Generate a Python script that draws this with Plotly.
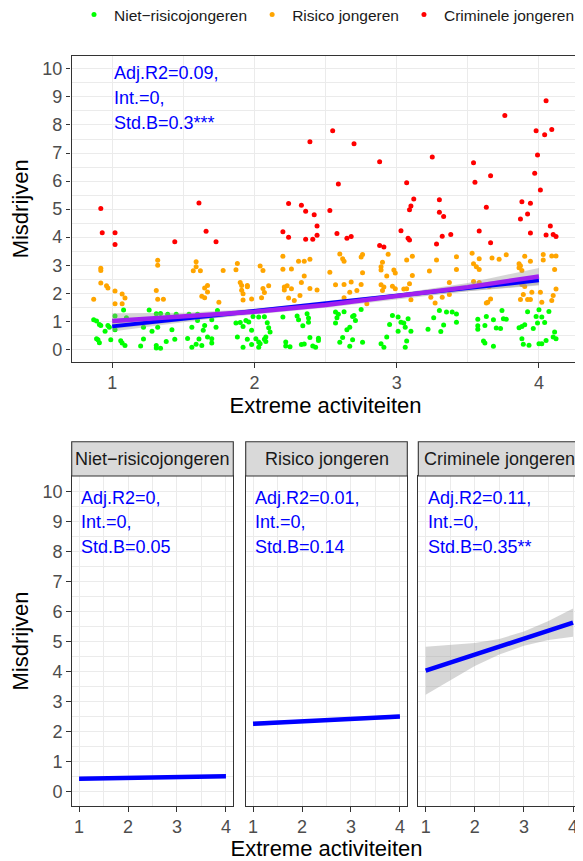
import plotly.graph_objects as go

# ---------------- data ----------------
groups = ["Niet\u2212risicojongeren", "Risico jongeren", "Criminele jongeren"]
group_colors = ["#00FF00", "#FFA500", "#FF0000"]

niet_x = [0.87, 0.89, 0.91, 0.92, 0.97, 0.98, 0.95, 1.02, 1.08, 1.02, 0.89, 0.91, 0.90, 0.99, 1.06, 1.07, 1.09, 1.10,
          1.20, 1.22, 1.26, 1.22, 1.28, 1.32, 1.31, 1.31, 1.34, 1.38, 1.42, 1.44, 1.31, 1.34, 1.39, 1.45, 1.53, 1.56,
          1.56, 1.59, 1.61, 1.63, 1.64, 1.60, 1.54, 1.60, 1.65, 1.67,
          1.74, 1.70, 1.73, 1.70, 1.70, 1.87, 1.90, 1.92, 1.88, 1.92, 1.95, 1.94, 1.96, 1.98, 1.98, 2.01, 2.03, 2.04,
          2.07, 2.08, 2.08, 2.03, 1.99, 2.03, 2.07, 2.09, 2.10, 2.11, 2.20, 2.22, 2.22, 2.25, 2.30, 2.31, 2.34, 2.37,
          2.38, 2.38, 2.33, 2.35, 2.39, 2.41, 2.43, 2.45, 2.45,
          2.57, 2.59, 2.63, 2.58, 2.57, 2.69, 2.70, 2.71, 2.67, 2.65, 2.75, 2.60, 2.62, 2.69, 2.67, 2.76, 2.89, 2.91,
          2.93, 2.95, 2.97, 3.01, 3.03, 3.05, 3.08, 3.06, 3.10, 3.01, 3.07, 3.06, 3.22, 3.26, 3.33, 3.31, 3.30, 3.35,
          3.39, 3.42, 3.42, 3.57, 3.57, 3.57, 3.62, 3.63, 3.68, 3.74, 3.75, 3.77, 3.70, 3.73, 3.61, 3.62, 3.68, 3.86,
          3.88, 3.90, 3.96, 3.88, 3.89, 3.93, 3.92, 4.00, 3.98, 4.02, 3.99, 4.04, 4.07, 4.00, 4.02, 4.05, 4.11, 4.10, 4.12]
niet_y = [1.06, 1.01, 0.89, 0.85, 0.85, 0.79, 0.65, 1.19, 1.40, 0.70, 0.38, 0.24, 0.34, 0.34, 0.31, 0.23, 0.14, 1.13,
          0.12, 0.37, 1.40, 0.79, 0.65, 0.79, 0.14, 0.05, 0.04, 0.28, 0.70, 0.36, 1.27, 1.28, 1.25, 1.25, 0.39, 0.79,
          0.08, 0.18, 0.37, 0.14, 0.68, 1.03, 1.25, 1.25, 0.85, 0.44,
          1.39, 1.06, 0.79, 0.38, 0.23, 0.94, 0.96, 0.82, 0.44, 0.08, 0.36, 1.03, 0.98, 0.68, 0.17, 0.38, 0.26, 0.20,
          0.36, 0.44, 0.28, 0.08, 1.17, 1.15, 1.16, 0.95, 0.77, 0.62, 1.15, 0.26, 0.12, 0.09, 1.19, 1.06, 0.84, 1.27,
          1.12, 0.97, 0.17, 0.19, 0.42, 0.12, 0.08, 0.40, 0.32,
          1.33, 1.25, 1.34, 1.13, 0.94, 1.17, 1.21, 1.03, 0.79, 0.70, 1.42, 0.25, 0.42, 0.34, 0.11, 0.25, 0.20, 0.08,
          0.44, 0.89, 1.21, 1.15, 0.97, 0.94, 1.09, 0.79, 0.65, 0.65, 0.30, 0.08, 0.72, 1.13, 0.87, 0.64, 1.39, 1.33,
          1.33, 1.26, 0.97, 1.07, 0.84, 0.72, 0.85, 1.17, 1.06, 1.39, 1.09, 1.07, 0.76, 0.74, 0.30, 0.23, 0.11, 0.77,
          0.82, 0.88, 0.74, 0.38, 0.18, 0.15, 1.34, 1.41, 1.17, 1.15, 0.94, 0.96, 1.35, 0.20, 0.20, 0.32, 0.62, 0.44, 0.38]

risico_x = [0.92, 0.92, 0.92, 0.96, 0.97, 0.87, 1.02, 1.07, 1.09, 1.02, 1.07, 1.32, 1.32, 1.31, 1.32, 1.36, 1.59, 1.59,
            1.57, 1.62, 1.67, 1.65, 1.63, 1.65, 1.67,
            1.88, 1.87, 1.78, 1.75, 1.90, 1.91, 1.95, 1.95, 1.91, 1.92, 1.92, 1.98, 2.04, 2.06, 2.10, 2.06, 2.07, 2.05,
            2.20, 2.20, 2.26, 2.31, 2.35, 2.39, 2.35, 2.33, 2.21, 2.23, 2.26, 2.21, 2.39, 2.44, 2.24, 2.28, 2.32,
            2.53, 2.60, 2.62, 2.63, 2.57, 2.63, 2.68, 2.67, 2.72, 2.75, 2.76, 2.76, 2.75, 2.63, 2.94, 2.90, 2.89, 2.89,
            2.93, 2.89, 2.91, 2.90, 2.97, 2.99, 2.98, 2.99, 3.05, 3.07, 3.09, 3.11, 3.07, 3.11, 3.23, 3.28, 3.24, 3.27,
            3.32, 3.10, 2.79,
            3.42, 3.42, 3.53, 3.58, 3.54, 3.56, 3.58, 3.67, 3.72, 3.77, 3.90, 3.94, 3.86, 3.87, 3.86, 3.88, 3.37, 3.54,
            3.58, 3.65, 3.88, 3.89, 3.95, 3.87, 3.92, 3.94, 3.66, 3.64, 3.63, 3.37, 4.03, 4.03, 4.09, 4.12, 4.11, 4.01,
            4.12, 4.10, 4.09, 4.02, 3.90]
risico_y = [2.89, 2.81, 2.37, 2.27, 2.19, 1.79, 2.08, 1.97, 1.83, 1.63, 1.63, 3.18, 3.00, 2.10, 1.79, 1.79, 3.12, 2.95,
            2.80, 2.80, 2.28, 2.19, 1.89, 1.84, 2.05,
            3.06, 2.84, 2.81, 1.68, 2.38, 2.28, 2.28, 2.23, 2.11, 1.98, 1.76, 1.80, 2.97, 2.81, 2.27, 2.17, 2.03, 1.84,
            3.32, 2.86, 2.87, 3.14, 3.14, 3.21, 2.62, 2.38, 2.22, 2.27, 2.16, 2.12, 2.17, 2.12, 1.83, 1.74, 1.92,
            2.75, 3.40, 3.23, 3.14, 2.30, 2.31, 2.40, 2.04, 2.10, 3.29, 3.38, 2.73, 2.31, 1.84, 3.39, 3.11, 2.95, 2.83,
            2.62, 2.30, 2.22, 2.10, 2.25, 2.16, 2.83, 2.72, 2.15, 2.16, 2.34, 2.63, 3.19, 3.32, 2.79, 3.19, 1.86, 1.65,
            1.86, 1.77, 1.63,
            3.30, 2.85, 3.43, 3.23, 3.05, 2.95, 2.85, 3.26, 3.21, 3.37, 3.32, 3.14, 3.05, 2.98, 2.91, 2.81, 2.38, 2.42,
            2.38, 2.24, 2.31, 1.96, 2.04, 1.78, 1.78, 1.78, 1.80, 1.68, 1.65, 1.96, 3.38, 3.19, 3.33, 3.33, 2.85, 2.04,
            2.15, 1.92, 1.74, 1.68, 2.24]

crim_x = [0.92, 0.93, 1.02, 1.02, 1.44, 1.61, 1.66,
          1.73, 2.24, 2.33, 2.36, 2.42, 2.44, 2.20, 2.24, 2.36, 2.41, 2.44, 2.39, 2.55, 2.70, 2.88, 2.59,
          3.12, 3.10, 3.09, 3.30, 3.30, 3.33, 2.53, 2.58, 2.65, 2.68, 3.03, 3.08, 3.09, 3.32, 3.28, 2.88, 2.91,
          3.07, 3.25, 3.54, 3.55, 3.66, 3.76,
          3.63, 3.88, 3.94, 3.92, 3.87, 3.58, 3.66, 3.94, 3.38, 4.08, 4.05, 4.10, 4.12,
          4.05, 3.98, 4.09, 4.04, 3.99, 3.97, 4.01]
crim_y = [5.02, 4.16, 4.16, 3.74, 3.84, 5.22, 4.21,
          3.84, 5.20, 5.14, 4.92, 4.80, 4.40, 4.19, 4.00, 3.93, 3.93, 4.07, 7.40, 7.79, 7.33, 6.69, 5.90,
          5.36, 5.11, 4.98, 5.33, 4.89, 4.74, 4.95, 4.13, 3.96, 4.02, 4.23, 3.96, 3.90, 4.03, 3.76, 3.70, 3.65,
          5.94, 6.86, 6.65, 5.96, 6.19, 8.34,
          5.07, 5.26, 5.21, 4.83, 4.65, 4.22, 3.80, 4.15, 4.10, 4.40, 4.08, 4.10, 4.02,
          8.86, 7.79, 7.84, 7.65, 6.93, 6.28, 5.68]

# fitted curves of the pooled panel (linear = blue, smooth = purple)
fit_x = [1, 1.5, 2, 2.5, 3, 3.5, 4]
lin_y = [0.82, 1.09, 1.37, 1.64, 1.91, 2.19, 2.46]
lin_lo = [0.64, 0.97, 1.29, 1.57, 1.83, 2.07, 2.28]
lin_hi = [1.00, 1.21, 1.45, 1.71, 1.99, 2.31, 2.64]
smooth_y = [1.01, 1.16, 1.34, 1.58, 1.88, 2.22, 2.60]
smooth_lo = [0.73, 1.01, 1.24, 1.48, 1.78, 2.07, 2.30]
smooth_hi = [1.29, 1.31, 1.44, 1.68, 1.98, 2.37, 2.90]

# per-group fitted lines (facets)
facet_fit_y = [
    [0.43, 0.443, 0.457, 0.47, 0.483, 0.497, 0.51],
    [2.26, 2.30, 2.34, 2.38, 2.42, 2.46, 2.50],
    [4.03, 4.30, 4.57, 4.83, 5.10, 5.37, 5.63],
]
facet_fit_lo = [
    [0.37, 0.398, 0.422, 0.44, 0.448, 0.452, 0.45],
    [2.18, 2.24, 2.295, 2.34, 2.375, 2.40, 2.42],
    [3.23, 3.72, 4.19, 4.57, 4.86, 5.05, 5.16],
]
facet_fit_hi = [
    [0.49, 0.488, 0.492, 0.50, 0.518, 0.542, 0.57],
    [2.34, 2.36, 2.385, 2.42, 2.465, 2.52, 2.58],
    [4.83, 4.88, 4.95, 5.09, 5.34, 5.69, 6.10],
]

top_stats = ["Adj.R2=0.09,", "Int.=0,", "Std.B=0.3***"]
facet_stats = [
    ["Adj.R2=0,", "Int.=0,", "Std.B=0.05"],
    ["Adj.R2=0.01,", "Int.=0,", "Std.B=0.14"],
    ["Adj.R2=0.11,", "Int.=0,", "Std.B=0.35**"],
]

x_ticks = [1, 2, 3, 4]
y_ticks = list(range(0, 11))

# ---------------- figure ----------------
OFF = 8                      # page body margin of the html page
W, H = 583 - OFF, 861 - OFF
FONT = "Liberation Sans, Arial, Helvetica, sans-serif"
BAND = "rgba(153,153,153,0.4)"
DARK = "#333333"
GRID = "#EBEBEB"


def px_x(p):
    return (p - OFF) / W


def px_y(p):
    return 1 - (p - OFF) / H


fig = go.Figure()

pts = [(niet_x, niet_y), (risico_x, risico_y), (crim_x, crim_y)]
for name, col, (xs, ys) in zip(groups, group_colors, pts):
    fig.add_trace(go.Scatter(x=xs, y=ys, mode="markers", name=name,
                             marker=dict(color=col, size=5, line=dict(width=0)),
                             xaxis="x", yaxis="y", showlegend=True))

for lo, hi in [(lin_lo, lin_hi), (smooth_lo, smooth_hi)]:
    fig.add_trace(go.Scatter(x=fit_x + fit_x[::-1], y=hi + lo[::-1], fill="toself",
                             fillcolor=BAND, line=dict(width=0), mode="lines",
                             hoverinfo="skip", showlegend=False, xaxis="x", yaxis="y"))
fig.add_trace(go.Scatter(x=fit_x, y=lin_y, mode="lines", line=dict(color="#0000FF", width=4),
                         showlegend=False, xaxis="x", yaxis="y"))
fig.add_trace(go.Scatter(x=fit_x, y=smooth_y, mode="lines", line=dict(color="#A020F0", width=4.5),
                         showlegend=False, xaxis="x", yaxis="y"))

for i in range(3):
    xa, ya = f"x{i+2}", f"y{i+2}"
    fig.add_trace(go.Scatter(x=fit_x + fit_x[::-1], y=facet_fit_hi[i] + facet_fit_lo[i][::-1],
                             fill="toself", fillcolor=BAND, line=dict(width=0), mode="lines",
                             hoverinfo="skip", showlegend=False, xaxis=xa, yaxis=ya))
    fig.add_trace(go.Scatter(x=fit_x, y=facet_fit_y[i], mode="lines",
                             line=dict(color="#0000FF", width=4.5),
                             showlegend=False, xaxis=xa, yaxis=ya))

axis_common = dict(
    showline=True, mirror=True, linecolor=DARK, linewidth=1.1,
    ticks="outside", ticklen=4.5, tickwidth=1.1, tickcolor=DARK,
    tickfont=dict(size=18, color="#4D4D4D", family=FONT),
    showgrid=True, gridcolor=GRID, gridwidth=1.1, zeroline=False, automargin=False,
)
minor_grid = dict(dtick=0.5, tick0=0, showgrid=True, gridcolor=GRID, gridwidth=0.6, ticks="")
title_font = dict(size=22, family=FONT, color="#000000")

layout = dict(
    width=W, height=H, margin=dict(l=0, r=0, t=0, b=0, autoexpand=False),
    paper_bgcolor="white", plot_bgcolor="white",
    font=dict(family=FONT, color="#000000"),
    legend=dict(orientation="h", x=px_x(74), xanchor="left", y=px_y(-2), yanchor="top",
                font=dict(size=15.5, color="#1A1A1A", family=FONT),
                itemwidth=30, bgcolor="rgba(0,0,0,0)"),
    showlegend=True,
)

layout["xaxis"] = dict(axis_common, domain=[px_x(71.5), px_x(579.5)], range=[0.714, 4.285],
                       tickvals=x_ticks, anchor="y", minor=minor_grid,
                       title=dict(text="Extreme activiteiten", font=title_font, standoff=5))
layout["yaxis"] = dict(axis_common, domain=[px_y(362), px_y(55.7)], range=[-0.45, 10.47],
                       tickvals=y_ticks, anchor="x", minor=minor_grid,
                       title=dict(text="Misdrijven", font=title_font, standoff=10))

panel_px = [(71.7, 233.3), (245.7, 407.3), (418.3, 580.4)]
strip_top, panel_top, panel_bot = 441.7, 476, 806
for i, (l, r) in enumerate(panel_px):
    k = i + 2
    xd = dict(axis_common, domain=[px_x(l), px_x(r)], range=[0.85, 4.15], tickvals=x_ticks,
              anchor=f"y{k}", minor=minor_grid)
    if i == 1:
        xd["title"] = dict(text="Extreme activiteiten", font=title_font, standoff=5)
    yd = dict(axis_common, domain=[px_y(panel_bot), px_y(panel_top)], range=[-0.48, 10.52],
              tickvals=y_ticks, anchor=f"x{k}", minor=minor_grid)
    if i == 0:
        yd["title"] = dict(text="Misdrijven", font=title_font, standoff=10)
    else:
        yd["showticklabels"] = False
        yd["ticks"] = ""
    layout[f"xaxis{k}"] = xd
    layout[f"yaxis{k}"] = yd

fig.update_layout(**layout)

shapes = []
annotations = []
for i, (l, r) in enumerate(panel_px):
    shapes.append(dict(type="rect", xref="paper", yref="paper", x0=px_x(l), x1=px_x(r),
                       y0=px_y(panel_top), y1=px_y(strip_top), fillcolor="#D9D9D9",
                       line=dict(color=DARK, width=1.1), layer="above"))
    annotations.append(dict(text=groups[i], xref="paper", yref="paper", x=px_x((l + r) / 2),
                            y=px_y((strip_top + panel_top) / 2), showarrow=False,
                            font=dict(size=18, color="#1A1A1A", family=FONT),
                            xanchor="center", yanchor="middle"))

top_line_y = [9.86, 8.96, 8.07]
for txt, yy in zip(top_stats, top_line_y):
    annotations.append(dict(text=txt, xref="x", yref="y", x=1, y=yy, showarrow=False,
                            xanchor="left", yanchor="middle",
                            font=dict(size=18, color="#0000FF", family=FONT)))
facet_line_y = [9.79, 9.0, 8.17]
for i in range(3):
    for txt, yy in zip(facet_stats[i], facet_line_y):
        annotations.append(dict(text=txt, xref=f"x{i+2}", yref=f"y{i+2}", x=1, y=yy, showarrow=False,
                                xanchor="left", yanchor="middle",
                                font=dict(size=18, color="#0000FF", family=FONT)))

fig.update_layout(shapes=shapes, annotations=annotations)
fig.write_html("out.html")
